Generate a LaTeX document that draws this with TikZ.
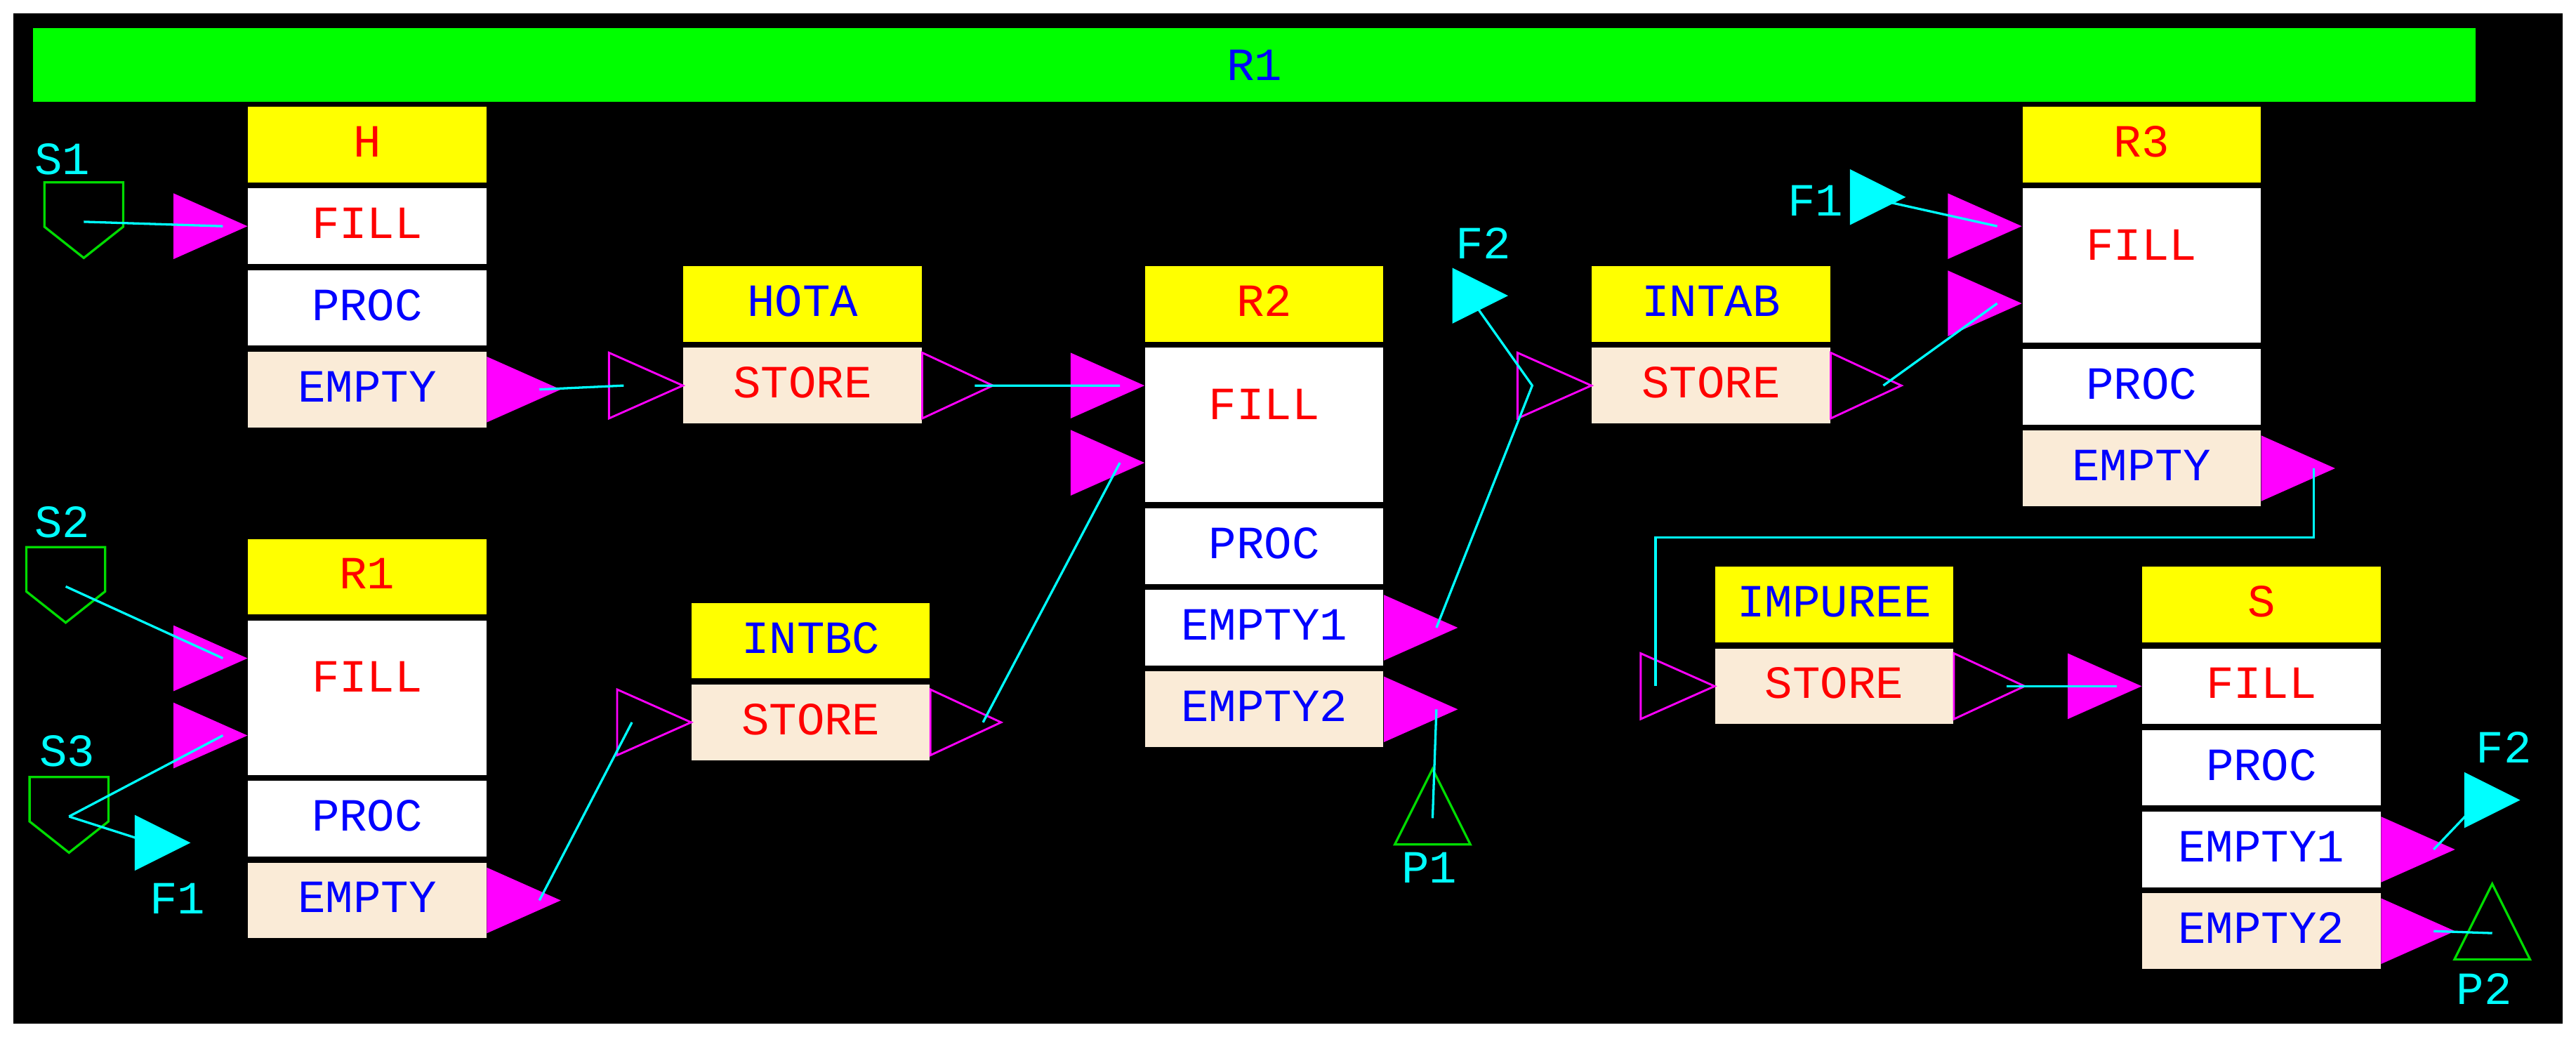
\documentclass[tikz,border=0pt]{standalone}
\usepackage{fontspec}
\newfontfamily\pixfont{Liberation Mono}
\usetikzlibrary{positioning}
\definecolor{myred}{RGB}{255,0,0}
\definecolor{myblue}{RGB}{0,0,255}
\definecolor{mycyan}{RGB}{0,255,255}
\definecolor{mymag}{RGB}{255,0,255}
\definecolor{mygreen}{RGB}{0,255,0}
\definecolor{shieldgreen}{RGB}{0,220,0}
\definecolor{myyellow}{RGB}{255,255,0}
\definecolor{beige}{RGB}{250,235,215}
\tikzset{
  txt/.style={font=\pixfont\fontsize{16}{16}\selectfont},
  row/.style={txt, minimum width=2.9cm, minimum height=0.92cm, inner sep=0pt,
    text height=0.3cm, text depth=0cm},
  hdr/.style={row, fill=myyellow},
  wrow/.style={row, fill=white},
  brow/.style={row, fill=beige},
  dbl/.style={minimum height=1.88cm, text depth=0.44cm},
  lbl/.style={txt, text=mycyan, inner sep=0pt},
  flow/.style={draw=mycyan, line width=0.8pt},
  inport/.pic={\fill[mymag] (0,0) -- (-45,-20) -- (-45,20) -- cycle;
    \coordinate (-c) at (-15,0);},
  outport/.pic={\fill[mymag] (0,-20) -- (45,0) -- (0,20) -- cycle;
    \coordinate (-c) at (32,0);},
  hin/.pic={\draw[mymag, line width=0.7pt] (0,0) -- (-45,-20) -- (-45,20) -- cycle;
    \coordinate (-c) at (-36,0);},
  hout/.pic={\draw[mymag, line width=0.7pt] (0,-20) -- (43,0) -- (0,20) -- cycle;
    \coordinate (-c) at (32,0);},
  source/.pic={\draw[shieldgreen, line width=0.8pt] (-24,-24) -- (24,-24) -- (24,3) -- (0,22) -- (-24,3) -- cycle;
    \coordinate (-c) at (0,0);},
  sink/.pic={\draw[shieldgreen, line width=0.8pt] (0,0) -- (23,46) -- (-23,46) -- cycle;
    \coordinate (-c) at (0,30);},
  flowtri/.pic={\fill[mycyan] (0,-17) -- (34,0) -- (0,17) -- cycle;
    \coordinate (-c) at (10,0);},
}
\begin{document}
\begin{tikzpicture}[x=0.02cm, y=-0.02cm]
  \useasboundingbox (0,0) rectangle (1568,631);
  \fill[white] (0,0) rectangle (1568,631);
  \fill[black] (8,8) rectangle (1560,623);
  \node[fill=mygreen, txt, text=myblue, minimum width=29.74cm, minimum height=0.9cm, inner sep=0pt] (bar) at (763.5,39.5) {R1};

  % operations
  \node[hdr, text=myred] (h) at (223.5,88) {H};
  \node[wrow, text=myred, below=0.06cm of h] (hf) {FILL};
  \node[wrow, text=myblue, below=0.06cm of hf] (hp) {PROC};
  \node[brow, text=myblue, below=0.06cm of hp] (he) {EMPTY};

  \node[hdr, text=myred] (r1) at (223.5,351) {R1};
  \node[wrow, dbl, text=myred, below=0.06cm of r1] (r1f) {FILL};
  \node[wrow, text=myblue, below=0.06cm of r1f] (r1p) {PROC};
  \node[brow, text=myblue, below=0.06cm of r1p] (r1e) {EMPTY};

  \node[hdr, text=myred] (r2) at (769.5,185) {R2};
  \node[wrow, dbl, text=myred, below=0.06cm of r2] (r2f) {FILL};
  \node[wrow, text=myblue, below=0.06cm of r2f] (r2p) {PROC};
  \node[wrow, text=myblue, below=0.06cm of r2p] (r2ea) {EMPTY1};
  \node[brow, text=myblue, below=0.06cm of r2ea] (r2eb) {EMPTY2};

  \node[hdr, text=myred] (r3) at (1303.5,88) {R3};
  \node[wrow, dbl, text=myred, below=0.06cm of r3] (r3f) {FILL};
  \node[wrow, text=myblue, below=0.06cm of r3f] (r3p) {PROC};
  \node[brow, text=myblue, below=0.06cm of r3p] (r3e) {EMPTY};

  \node[hdr, text=myred] (s) at (1376.5,368) {S};
  \node[wrow, text=myred, below=0.06cm of s] (sf) {FILL};
  \node[wrow, text=myblue, below=0.06cm of sf] (sp) {PROC};
  \node[wrow, text=myblue, below=0.06cm of sp] (sea) {EMPTY1};
  \node[brow, text=myblue, below=0.06cm of sea] (seb) {EMPTY2};

  % storages
  \node[hdr, text=myblue] (hota) at (488.5,185) {HOTA};
  \node[brow, text=myred, below=0.06cm of hota] (hotas) {STORE};
  \node[hdr, text=myblue] (intbc) at (493.5,390) {INTBC};
  \node[brow, text=myred, below=0.06cm of intbc] (intbcs) {STORE};
  \node[hdr, text=myblue] (intab) at (1041.5,185) {INTAB};
  \node[brow, text=myred, below=0.06cm of intab] (intabs) {STORE};
  \node[hdr, text=myblue] (imp) at (1116.5,368) {IMPUREE};
  \node[brow, text=myred, below=0.06cm of imp] (imps) {STORE};

  % ports
  \pic (hi) at (hf.west) {inport};
  \pic (ho) at (he.east) {outport};
  \pic (r1ia) at ([yshift=0.48cm]r1f.west) {inport};
  \pic (r1ib) at ([yshift=-0.46cm]r1f.west) {inport};
  \pic (r1o) at (r1e.east) {outport};
  \pic (r2ia) at ([yshift=0.48cm]r2f.west) {inport};
  \pic (r2ib) at ([yshift=-0.46cm]r2f.west) {inport};
  \pic (r2oa) at (r2ea.east) {outport};
  \pic (r2ob) at (r2eb.east) {outport};
  \pic (r3ia) at ([yshift=0.48cm]r3f.west) {inport};
  \pic (r3ib) at ([yshift=-0.46cm]r3f.west) {inport};
  \pic (r3o) at (r3e.east) {outport};
  \pic (si) at (sf.west) {inport};
  \pic (soa) at (sea.east) {outport};
  \pic (sob) at (seb.east) {outport};
  \pic (hotai) at (hotas.west) {hin};
  \pic (hotao) at (hotas.east) {hout};
  \pic (intbci) at (intbcs.west) {hin};
  \pic (intbco) at (intbcs.east) {hout};
  \pic (intabi) at (intabs.west) {hin};
  \pic (intabo) at (intabs.east) {hout};
  \pic (impi) at (imps.west) {hin};
  \pic (impo) at (imps.east) {hout};

  % sources, sinks, flows
  \pic (sa) at (51,135) {source};
  \node[lbl] (sal) at (38,97) {S1};
  \pic (sb) at (40,357) {source};
  \node[lbl] (sbl) at (38,318) {S2};
  \pic (sc) at (42,497) {source};
  \node[lbl] (scl) at (41,457) {S3};
  \pic (fa) at (82,513) {flowtri};
  \node[lbl] (fal) at (108,547) {F1};
  \pic (fb) at (1126,120) {flowtri};
  \node[lbl] (fbl) at (1105,122) {F1};
  \pic (fc) at (884,180) {flowtri};
  \node[lbl] (fcl) at (903,148) {F2};
  \pic (fd) at (1500,487) {flowtri};
  \node[lbl] (fdl) at (1524,455) {F2};
  \pic (pa) at (872,468) {sink};
  \node[lbl] (pal) at (870,528) {P1};
  \pic (pb) at (1517,538) {sink};
  \node[lbl] (pbl) at (1512,602) {P2};

  % connectors
  \draw[flow] (sa-c) -- (hi-c);
  \draw[flow] (sb-c) -- (r1ia-c);
  \draw[flow] (sc-c) -- (r1ib-c);
  \draw[flow] (sc-c) -- (fa-c);
  \draw[flow] (ho-c) -- (hotai-c);
  \draw[flow] (hotao-c) -- (r2ia-c);
  \draw[flow] (r1o-c) -- (intbci-c);
  \draw[flow] (intbco-c) -- (r2ib-c);
  \draw[flow] (r2oa-c) -- (intabi-c) -- (fc-c);
  \draw[flow] (r2ob-c) -- (pa-c);
  \draw[flow] (fb-c) -- (r3ia-c);
  \draw[flow] (intabo-c) -- (r3ib-c);
  \draw[flow] (r3o-c) -- ++(0,42) -| (impi-c);
  \draw[flow] (impo-c) -- (si-c);
  \draw[flow] (soa-c) -- (fd-c);
  \draw[flow] (sob-c) -- (pb-c);
\end{tikzpicture}
\end{document}
